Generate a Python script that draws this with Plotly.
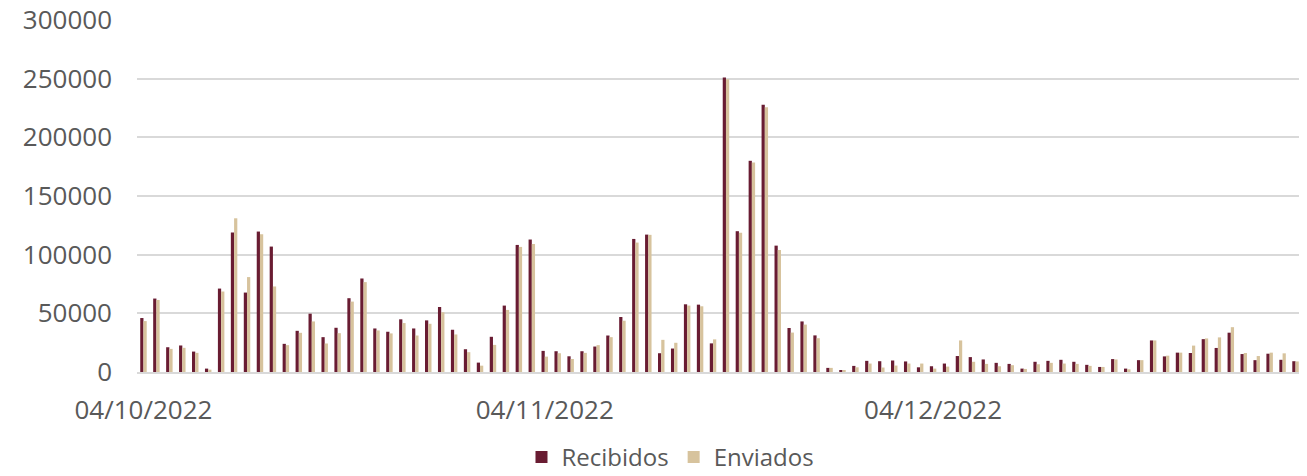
import pandas as pd
import plotly.graph_objects as go

# daily values, 04/10/2022 .. 01/01/2023
fechas = pd.date_range("2022-10-04", "2023-01-01", freq="D")

recibidos = [
    46000, 62600, 21100, 22600, 17400, 2900, 71100, 118900, 67700, 119700,
    106900, 24000, 35100, 49700, 29700, 37700, 62900, 79700, 37100, 34300,
    44900, 37100, 44000, 55400, 36000, 19400, 8000, 30000, 56600, 108300,
    112900, 18000, 17700, 13400, 17700, 21700, 31100, 46900, 113400, 117100,
    16000, 20000, 57700, 57400, 24400, 250900, 120000, 180000, 227700, 107700,
    37500, 43100, 31200, 3500, 1700, 5200, 9500, 9200, 9800, 9000,
    4000, 4900, 7200, 13600, 12700, 10700, 7800, 6900, 2900, 8700,
    9500, 10400, 8700, 6100, 4300, 11000, 2900, 10100, 26900, 13300,
    16500, 16200, 28000, 20500, 33500, 15300, 10100, 15600, 10400, 9200,
]

enviados = [
    43400, 61400, 19700, 20600, 16300, 2000, 68600, 131000, 80900, 117400,
    72900, 22900, 33400, 43100, 24300, 33100, 60000, 76600, 35400, 32900,
    41700, 31100, 41100, 50900, 32000, 16900, 5400, 23100, 52900, 106600,
    109100, 13100, 16000, 11100, 16300, 22900, 29700, 43700, 110300, 116900,
    27400, 24900, 56600, 56000, 27800, 249400, 118600, 178600, 225700, 104000,
    33600, 40400, 28800, 3500, 1000, 4000, 7200, 3800, 5500, 7200,
    7200, 2900, 4600, 26900, 8700, 6900, 4900, 5800, 2600, 6600,
    7800, 7200, 6900, 5200, 4300, 10700, 2300, 10100, 26900, 13900,
    16500, 22500, 28600, 29500, 38200, 16200, 13600, 16500, 15900, 9000,
]

tick_fechas = ["2022-10-04", "2022-11-04", "2022-12-04"]
tick_textos = ["04/10/2022", "04/11/2022", "04/12/2022"]

color_recibidos = "#691C32"
color_enviados = "#D7C39D"
gris = "#595959"

fig = go.Figure()

fig.add_trace(go.Bar(
    x=fechas,
    y=recibidos,
    name="Recibidos",
    marker_color=color_recibidos,
    marker_line_width=0,
))

fig.add_trace(go.Bar(
    x=fechas,
    y=enviados,
    name="Enviados",
    marker_color=color_enviados,
    marker_line_width=0,
))

# the page keeps its 8px body margin, so the figure is 8px smaller
fig.update_layout(
    width=1299,
    height=468,
    barmode="group",
    bargap=0.5,
    bargroupgap=0,
    margin=dict(l=129, r=5, t=12, b=104),
    paper_bgcolor="white",
    plot_bgcolor="white",
    font=dict(family="Open Sans", color=gris, size=25),
    legend=dict(
        orientation="h",
        xref="container", yref="container",
        x=0.51, xanchor="center",
        y=0.04, yanchor="middle",
        font=dict(size=24, color=gris),
        traceorder="normal",
    ),
    showlegend=True,
)

fig.update_xaxes(
    type="date",
    range=["2022-10-03 12:00", "2023-01-01 12:00"],
    tickvals=tick_fechas,
    ticktext=tick_textos,
    tickangle=0,
    ticks="",
    showgrid=False,
    showline=True,
    linecolor="#D9D9D9",
    linewidth=2,
    ticklabelstandoff=14,
    tickfont=dict(size=26, color=gris),
    automargin=False,
)

fig.update_yaxes(
    range=[0, 300000],
    tickvals=[0, 50000, 100000, 150000, 200000, 250000, 300000],
    ticktext=["0", "50000", "100000", "150000", "200000", "250000", "300000"],
    showgrid=True,
    gridcolor="#D9D9D9",
    gridwidth=2,
    zeroline=False,
    ticklabelstandoff=24,
    ticklabeloverflow="allow",
    tickfont=dict(size=26, color=gris),
    automargin=False,
)

fig.write_html("out.html")
